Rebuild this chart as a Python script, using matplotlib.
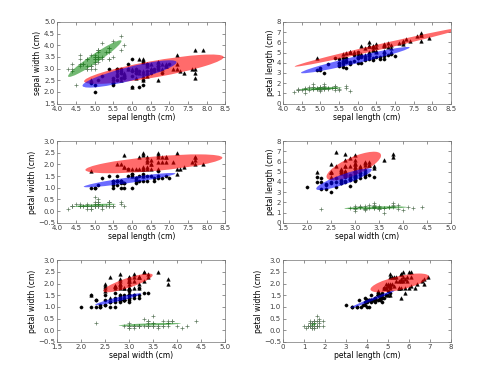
import numpy as np
import matplotlib
matplotlib.use('Agg')
import matplotlib.pyplot as plt
from matplotlib.patches import Ellipse

# Iris measurements (cm), 50 setosa, 50 versicolor, 50 virginica
sepal_length = [
    5.1, 4.9, 4.7, 4.6, 5.0, 5.4, 4.6, 5.0, 4.4, 4.9, 5.4, 4.8, 4.8, 4.3, 5.8, 5.7, 5.4, 5.1, 5.7, 5.1,
    5.4, 5.1, 4.6, 5.1, 4.8, 5.0, 5.0, 5.2, 5.2, 4.7, 4.8, 5.4, 5.2, 5.5, 4.9, 5.0, 5.5, 4.9, 4.4, 5.1,
    5.0, 4.5, 4.4, 5.0, 5.1, 4.8, 5.1, 4.6, 5.3, 5.0,
    7.0, 6.4, 6.9, 5.5, 6.5, 5.7, 6.3, 4.9, 6.6, 5.2, 5.0, 5.9, 6.0, 6.1, 5.6, 6.7, 5.6, 5.8, 6.2, 5.6,
    5.9, 6.1, 6.3, 6.1, 6.4, 6.6, 6.8, 6.7, 6.0, 5.7, 5.5, 5.5, 5.8, 6.0, 5.4, 6.0, 6.7, 6.3, 5.6, 5.5,
    5.5, 6.1, 5.8, 5.0, 5.6, 5.7, 5.7, 6.2, 5.1, 5.7,
    6.3, 5.8, 7.1, 6.3, 6.5, 7.6, 4.9, 7.3, 6.7, 7.2, 6.5, 6.4, 6.8, 5.7, 5.8, 6.4, 6.5, 7.7, 7.7, 6.0,
    6.9, 5.6, 7.7, 6.3, 6.7, 7.2, 6.2, 6.1, 6.4, 7.2, 7.4, 7.9, 6.4, 6.3, 6.1, 7.7, 6.3, 6.4, 6.0, 6.9,
    6.7, 6.9, 5.8, 6.8, 6.7, 6.7, 6.3, 6.5, 6.2, 5.9]
sepal_width = [
    3.5, 3.0, 3.2, 3.1, 3.6, 3.9, 3.4, 3.4, 2.9, 3.1, 3.7, 3.4, 3.0, 3.0, 4.0, 4.4, 3.9, 3.5, 3.8, 3.8,
    3.4, 3.7, 3.6, 3.3, 3.4, 3.0, 3.4, 3.5, 3.4, 3.2, 3.1, 3.4, 4.1, 4.2, 3.1, 3.2, 3.5, 3.6, 3.0, 3.4,
    3.5, 2.3, 3.2, 3.5, 3.8, 3.0, 3.8, 3.2, 3.7, 3.3,
    3.2, 3.2, 3.1, 2.3, 2.8, 2.8, 3.3, 2.4, 2.9, 2.7, 2.0, 3.0, 2.2, 2.9, 2.9, 3.1, 3.0, 2.7, 2.2, 2.5,
    3.2, 2.8, 2.5, 2.8, 2.9, 3.0, 2.8, 3.0, 2.9, 2.6, 2.4, 2.4, 2.7, 2.7, 3.0, 3.4, 3.1, 2.3, 3.0, 2.5,
    2.6, 3.0, 2.6, 2.3, 2.7, 3.0, 2.9, 2.9, 2.5, 2.8,
    3.3, 2.7, 3.0, 2.9, 3.0, 3.0, 2.5, 2.9, 2.5, 3.6, 3.2, 2.7, 3.0, 2.5, 2.8, 3.2, 3.0, 3.8, 2.6, 2.2,
    3.2, 2.8, 2.8, 2.7, 3.3, 3.2, 2.8, 3.0, 2.8, 3.0, 2.8, 3.8, 2.8, 2.8, 2.6, 3.0, 3.4, 3.1, 3.0, 3.1,
    3.1, 3.1, 2.7, 3.2, 3.3, 3.0, 2.5, 3.0, 3.4, 3.0]
petal_length = [
    1.4, 1.4, 1.3, 1.5, 1.4, 1.7, 1.4, 1.5, 1.4, 1.5, 1.5, 1.6, 1.4, 1.1, 1.2, 1.5, 1.3, 1.4, 1.7, 1.5,
    1.7, 1.5, 1.0, 1.7, 1.9, 1.6, 1.6, 1.5, 1.4, 1.6, 1.6, 1.5, 1.5, 1.4, 1.5, 1.2, 1.3, 1.4, 1.3, 1.5,
    1.3, 1.3, 1.3, 1.6, 1.9, 1.4, 1.6, 1.4, 1.5, 1.4,
    4.7, 4.5, 4.9, 4.0, 4.6, 4.5, 4.7, 3.3, 4.6, 3.9, 3.5, 4.2, 4.0, 4.7, 3.6, 4.4, 4.5, 4.1, 4.5, 3.9,
    4.8, 4.0, 4.9, 4.7, 4.3, 4.4, 4.8, 5.0, 4.5, 3.5, 3.8, 3.7, 3.9, 5.1, 4.5, 4.5, 4.7, 4.4, 4.1, 4.0,
    4.4, 4.6, 4.0, 3.3, 4.2, 4.2, 4.2, 4.3, 3.0, 4.1,
    6.0, 5.1, 5.9, 5.6, 5.8, 6.6, 4.5, 6.3, 5.8, 6.1, 5.1, 5.3, 5.5, 5.0, 5.1, 5.3, 5.5, 6.7, 6.9, 5.0,
    5.7, 4.9, 6.7, 4.9, 5.7, 6.0, 4.8, 4.9, 5.6, 5.8, 6.1, 6.4, 5.6, 5.1, 5.6, 6.1, 5.6, 5.5, 4.8, 5.4,
    5.6, 5.1, 5.1, 5.9, 5.7, 5.2, 5.0, 5.2, 5.4, 5.1]
petal_width = [
    0.2, 0.2, 0.2, 0.2, 0.2, 0.4, 0.3, 0.2, 0.2, 0.1, 0.2, 0.2, 0.1, 0.1, 0.2, 0.4, 0.4, 0.3, 0.3, 0.3,
    0.2, 0.4, 0.2, 0.5, 0.2, 0.2, 0.4, 0.2, 0.2, 0.2, 0.2, 0.4, 0.1, 0.2, 0.2, 0.2, 0.2, 0.1, 0.2, 0.2,
    0.3, 0.3, 0.2, 0.6, 0.4, 0.3, 0.2, 0.2, 0.2, 0.2,
    1.4, 1.5, 1.5, 1.3, 1.5, 1.3, 1.6, 1.0, 1.3, 1.4, 1.0, 1.5, 1.0, 1.4, 1.3, 1.4, 1.5, 1.0, 1.5, 1.1,
    1.8, 1.3, 1.5, 1.2, 1.3, 1.4, 1.4, 1.7, 1.5, 1.0, 1.1, 1.0, 1.2, 1.6, 1.5, 1.6, 1.5, 1.3, 1.3, 1.3,
    1.2, 1.4, 1.2, 1.0, 1.3, 1.2, 1.3, 1.3, 1.1, 1.3,
    2.5, 1.9, 2.1, 1.8, 2.2, 2.1, 1.7, 1.8, 1.8, 2.5, 2.0, 1.9, 2.1, 2.0, 2.4, 2.3, 1.8, 2.2, 2.3, 1.5,
    2.3, 2.0, 2.0, 1.8, 2.1, 1.8, 1.8, 1.8, 2.1, 1.6, 1.9, 2.0, 2.2, 1.5, 1.4, 2.3, 2.4, 1.8, 1.8, 2.1,
    2.4, 2.3, 1.9, 2.3, 2.5, 2.3, 1.9, 2.0, 2.3, 1.8]
species = ['setosa'] * 50 + ['versicolor'] * 50 + ['virginica'] * 50

feature_names = ['sepal length (cm)', 'sepal width (cm)', 'petal length (cm)', 'petal width (cm)']
pairs = [(0, 1), (0, 2), (0, 3), (1, 2), (1, 3), (2, 3)]
xlims = [(4.0, 8.5), (4.0, 8.5), (4.0, 8.5), (1.5, 5.0), (1.5, 5.0), (0, 8)]
ylims = [(1.5, 5.0), (0, 8), (-0.5, 3.0), (0, 8), (-0.5, 3.0), (-0.5, 3.0)]
xsteps = [0.5, 0.5, 0.5, 0.5, 0.5, 1]
ysteps = [0.5, 1, 0.5, 1, 0.5, 0.5]

X = np.column_stack([sepal_length, sepal_width, petal_length, petal_width])
labels = np.array(species)
names = ['setosa', 'versicolor', 'virginica']

marker_style = {
    'setosa': dict(marker='+', color='#5f7a5f', ms=2.2, mew=0.5, ls='none'),
    'versicolor': dict(marker='o', color='k', ms=2.3, mew=0.3, ls='none'),
    'virginica': dict(marker='^', color='k', ms=2.6, mew=0.3, ls='none'),
}
# draw order of ellipses, their colours and opacity
ell_order = [('virginica', 'r', 0.58), ('setosa', 'g', 0.55), ('versicolor', 'b', 0.58)]

fig = plt.figure(figsize=(4.93, 3.66), dpi=100)
fig.subplots_adjust(left=0.116, right=0.915, bottom=0.066, top=0.94, wspace=0.343, hspace=0.46)

for k, (i, j) in enumerate(pairs):
    ax = fig.add_subplot(3, 2, k + 1)
    for name in names:
        d = X[labels == name]
        ax.plot(d[:, i], d[:, j], zorder=2, **marker_style[name])
    for name, col, a in ell_order:
        d = X[labels == name][:, [i, j]]
        mean = d.mean(axis=0)
        cov = np.cov(d.T)
        v, w = np.linalg.eigh(cov)
        ang = np.degrees(np.arctan2(w[1, 1], w[0, 1]))
        v = v * 9
        e = Ellipse(mean, v[1], v[0], angle=ang, facecolor=col, edgecolor='none', alpha=a, zorder=3)
        ax.add_patch(e)
    ax.set_xlim(*xlims[k])
    ax.set_ylim(*ylims[k])
    ax.set_xticks(np.arange(xlims[k][0], xlims[k][1] + 1e-9, xsteps[k]))
    ax.set_yticks(np.arange(ylims[k][0], ylims[k][1] + 1e-9, ysteps[k]))
    ax.set_xlabel(feature_names[i], fontsize=5.5, labelpad=1)
    ax.set_ylabel(feature_names[j], fontsize=5.5, labelpad=1)
    ax.tick_params(direction='in', length=2, width=0.4, labelsize=5, pad=1.5,
                   top=True, right=True, colors='0.25')
    for s in ax.spines.values():
        s.set_linewidth(0.5)
        s.set_color('0.45')

fig.savefig('out.png', dpi=100)
